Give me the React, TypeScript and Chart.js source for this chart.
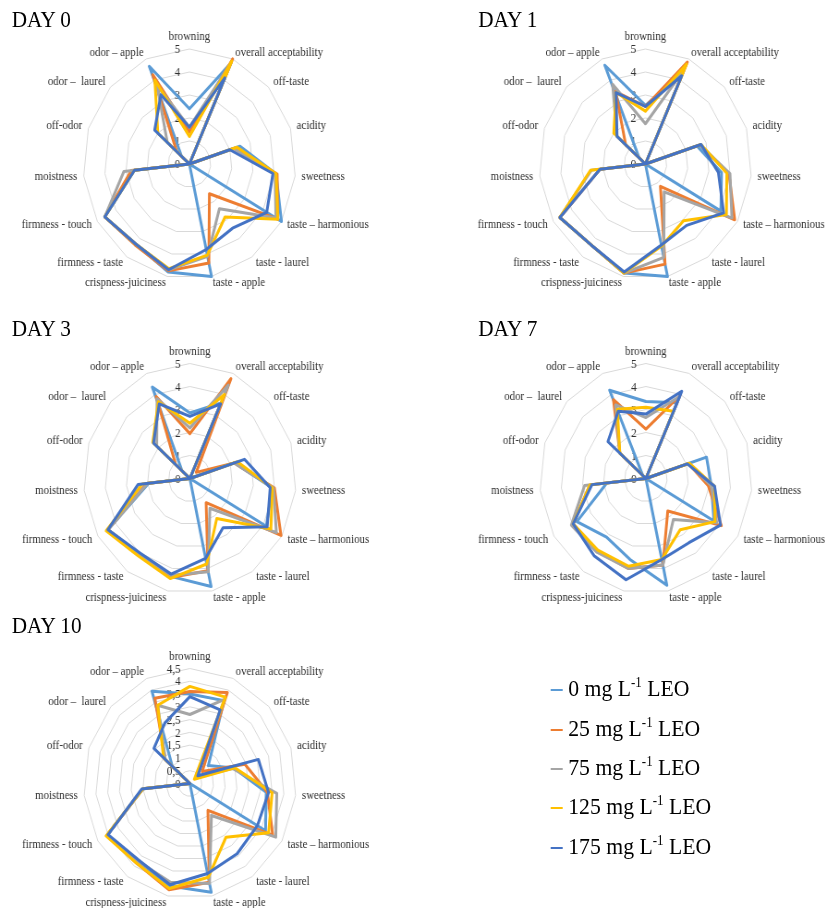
import React, { useEffect, useRef } from "react";
import { Chart, registerables } from "chart.js";
Chart.register(...registerables);

// ---------- DATA ----------
const categories = [
  "browning",
  "overall acceptability",
  "off-taste",
  "acidity",
  "sweetness",
  "taste – harmonious",
  "taste - laurel",
  "taste - apple",
  "crispness-juiciness",
  "firmness - taste",
  "firmness - touch",
  "moistness",
  "off-odor",
  "odor –  laurel",
  "odor – apple",
];

const seriesDoses = ["0", "25", "75", "125", "175"];
const seriesColors = ["#5B9BD5", "#ED7D31", "#A5A5A5", "#FFC000", "#4472C4"];

const ticks0to5 = ["0", "1", "2", "3", "4", "5"];
const ticks0to45 = ["0", "0,5", "1", "1,5", "2", "2,5", "3", "3,5", "4", "4,5"];

// DAY 0
const day0_0mg = [2.4, 4.8, 0, 2.5, 4.1, 5.0, 0, 5.0, 4.8, 4.3, 4.6, 2.6, 0, 0.5, 4.65];
const day0_25mg = [1.4, 5.0, 0, 2.2, 4.15, 4.8, 1.6, 4.4, 4.75, 4.35, 4.6, 2.75, 0, 0.8, 4.25];
const day0_75mg = [1.6, 4.8, 0, 2.2, 4.05, 4.7, 2.4, 4.1, 4.7, 4.3, 4.6, 3.1, 0, 1.4, 3.75];
const day0_125mg = [1.2, 4.9, 0, 2.35, 4.1, 4.8, 2.85, 4.05, 4.65, 4.3, 4.6, 2.6, 0, 2.0, 4.0];
const day0_175mg = [1.6, 4.1, 0, 2.0, 3.95, 4.2, 3.45, 3.8, 4.7, 4.3, 4.6, 2.6, 0, 2.2, 3.3];

// DAY 1
const day1_0mg = [2.55, 4.3, 0, 2.55, 3.6, 4.1, 0, 5.0, 4.85, 4.35, 4.65, 2.15, 0, 0.4, 4.7];
const day1_25mg = [2.5, 4.85, 0, 2.7, 3.95, 4.85, 1.2, 4.45, 4.85, 4.35, 4.65, 2.15, 0, 1.25, 3.45];
const day1_75mg = [1.75, 4.5, 0, 2.7, 4.0, 4.7, 1.5, 4.15, 4.85, 4.35, 4.65, 2.55, 0, 1.8, 3.8];
const day1_125mg = [2.3, 4.75, 0, 2.75, 3.85, 4.4, 3.05, 3.65, 4.85, 4.35, 4.65, 2.6, 0, 2.0, 3.4];
const day1_175mg = [2.5, 4.2, 0, 2.75, 3.45, 4.25, 3.3, 3.6, 4.8, 4.35, 4.65, 2.15, 0, 1.8, 3.4];

// DAY 3
const day3_0mg = [2.85, 3.6, 0, 2.2, 3.9, 4.15, 0, 4.8, 4.35, 4.05, 4.45, 1.95, 0, 0.5, 4.35];
const day3_25mg = [1.95, 4.75, 0.4, 2.2, 4.0, 4.95, 1.3, 4.1, 4.4, 4.05, 4.45, 2.05, 0, 0.9, 3.9];
const day3_75mg = [2.2, 4.45, 0, 2.2, 3.95, 4.7, 1.6, 4.15, 4.3, 4.05, 4.45, 2.0, 0, 2.1, 3.8];
const day3_125mg = [2.4, 4.0, 0, 2.35, 3.9, 4.4, 2.15, 3.8, 4.45, 4.15, 4.55, 2.25, 0, 2.35, 3.65];
const day3_175mg = [2.7, 3.55, 0, 2.7, 3.8, 4.2, 2.65, 3.55, 4.25, 4.0, 4.45, 2.45, 0, 2.3, 3.55];

// DAY 7
const day7_0mg = [3.35, 3.6, 0, 3.0, 3.1, 3.7, 0, 4.75, 3.6, 3.15, 3.75, 1.85, 0, 0.2, 4.2];
const day7_25mg = [2.15, 3.95, 0, 2.1, 2.95, 4.1, 1.75, 3.85, 4.0, 3.9, 3.95, 2.65, 0, 1.65, 3.75];
const day7_75mg = [2.65, 3.9, 0, 2.1, 3.1, 3.85, 2.2, 3.85, 4.0, 3.95, 4.05, 2.9, 0, 1.65, 3.5];
const day7_125mg = [3.1, 3.2, 0, 2.15, 3.25, 3.75, 2.75, 3.6, 3.9, 3.85, 3.95, 2.65, 0, 1.65, 3.3];
const day7_175mg = [2.8, 4.15, 0, 2.05, 3.25, 4.05, 3.45, 3.6, 4.5, 4.15, 3.95, 2.55, 0, 2.4, 3.2];

// DAY 10
const day10_0mg = [3.5, 3.55, 1.05, 1.95, 3.25, 3.7, 0, 4.35, 4.1, 3.75, 4.05, 2.0, 0, 1.0, 3.95];
const day10_25mg = [3.6, 3.9, 0.7, 2.45, 3.3, 4.05, 1.3, 3.95, 4.25, 3.85, 4.05, 2.0, 0, 1.4, 3.65];
const day10_75mg = [2.7, 3.6, 0.4, 1.9, 3.7, 4.2, 1.55, 4.0, 3.95, 3.75, 4.05, 2.0, 0, 1.4, 3.35];
const day10_125mg = [3.8, 3.7, 0.25, 2.0, 3.5, 3.85, 2.6, 3.75, 4.2, 3.85, 4.1, 2.0, 0, 1.5, 3.35];
const day10_175mg = [3.4, 3.15, 0.45, 3.05, 3.35, 3.3, 3.4, 3.6, 4.05, 3.7, 4.0, 2.05, 0, 2.05, 2.6];

// ---------- LAYOUT ----------
const SQUEEZE = 0.924; // horizontal compression of the whole figure
const PAGE_W = 825;
const PAGE_H = 908;
const INNER_W = Math.round(PAGE_W / SQUEEZE);
const FONT = '"Times New Roman", "Liberation Serif", serif';
const RADIUS = 115;
const TEXT_COLOR = "#303030";

const panels = [
  { title: "DAY 0", series: [day0_0mg, day0_25mg, day0_75mg, day0_125mg, day0_175mg], max: 5, step: 1, ticks: ticks0to5,
    left: 0, top: 0, w: 446, h: 312, cx: 205, cy: 164, tx: 12.7, ty: 8 },
  { title: "DAY 1", series: [day1_0mg, day1_25mg, day1_75mg, day1_125mg, day1_175mg], max: 5, step: 1, ticks: ticks0to5,
    left: 447, top: 0, w: 446, h: 312, cx: 251.5, cy: 164, tx: 517.6, ty: 7.5 },
  { title: "DAY 3", series: [day3_0mg, day3_25mg, day3_75mg, day3_125mg, day3_175mg], max: 5, step: 1, ticks: ticks0to5,
    left: 0, top: 312, w: 446, h: 296, cx: 205.5, cy: 166.5, tx: 12.7, ty: 316.7 },
  { title: "DAY 7", series: [day7_0mg, day7_25mg, day7_75mg, day7_125mg, day7_175mg], max: 5, step: 1, ticks: ticks0to5,
    left: 447, top: 312, w: 446, h: 296, cx: 252, cy: 166.5, tx: 517.6, ty: 316.7 },
  { title: "DAY 10", series: [day10_0mg, day10_25mg, day10_75mg, day10_125mg, day10_175mg], max: 4.5, step: 0.5, ticks: ticks0to45,
    left: 0, top: 608, w: 446, h: 300, cx: 205.5, cy: 175.5, tx: 12.7, ty: 614 },
];

const tickTextPlugin = {
  id: "tickText",
  beforeDatasetsDraw(chart: any) {
    const s = chart.scales.r;
    const ctx = chart.ctx;
    ctx.save();
    ctx.font = `12px ${FONT}`;
    ctx.fillStyle = TEXT_COLOR;
    ctx.textAlign = "right";
    ctx.textBaseline = "middle";
    s.ticks.forEach((t: any) => {
      const d = s.getDistanceFromCenterForValue(t.value);
      ctx.fillText(t.label, s.xCenter - 10, s.yCenter - d + 1);
    });
    ctx.restore();
  },
};

function RadarPanel(props: any) {
  const { series, max, step, ticks, left, top, w, h, cx, cy } = props;
  const ref = useRef<HTMLCanvasElement>(null);
  useEffect(() => {
    const n = categories.length;
    const chart = new Chart(ref.current as HTMLCanvasElement, {
      type: "radar",
      data: {
        labels: categories,
        datasets: series.map((d: number[], i: number) => ({
          label: `${seriesDoses[i]} mg L-1 LEO`,
          data: d,
          borderColor: seriesColors[i],
          backgroundColor: "transparent",
          borderWidth: 3,
          borderJoinStyle: "round",
          pointRadius: 0,
          pointHoverRadius: 0,
          fill: false,
          order: 4 - i,
        })),
      },
      options: {
        responsive: false,
        animation: false,
        events: [],
        layout: { padding: 0 },
        plugins: { legend: { display: false }, tooltip: { enabled: false } },
        scales: {
          r: {
            min: 0,
            max,
            beginAtZero: true,
            ticks: {
              display: false,
              stepSize: step,
              callback: (_v: any, i: number) => ticks[i],
            },
            grid: { color: "#D9D9D9", lineWidth: 1, circular: false },
            angleLines: { display: false },
            pointLabels: {
              display: true,
              color: TEXT_COLOR,
              font: { family: FONT, size: 11.7 },
              padding: (c: any) => (c.index === 0 ? 5 : 7),
            },
            afterFit: (scale: any) => {
              const saved = [scale.left, scale.right, scale.top, scale.bottom];
              scale.left = -10000;
              scale.right = 10000;
              scale.top = -10000;
              scale.bottom = 10000;
              scale.xCenter = cx;
              scale.yCenter = cy;
              scale.drawingArea = RADIUS;
              scale.fit();
              [scale.left, scale.right, scale.top, scale.bottom] = saved;
              const items = scale._pointLabelItems || [];
              items.forEach((it: any, i: number) => {
                const ang = (i * 360) / n;
                const hh = it.bottom - it.top;
                let dy = 0;
                if (ang === 0 || ang === 90 || ang === 270 || ang === 180) dy = 0;
                else if (ang < 90 || ang > 270) dy = hh / 2;
                else dy = -hh / 2;
                it.y += dy;
                it.top += dy;
                it.bottom += dy;
              });
            },
          },
        },
      },
      plugins: [tickTextPlugin],
    } as any);
    return () => chart.destroy();
  }, []);
  return (
    <canvas
      ref={ref}
      width={w}
      height={h}
      style={{ position: "absolute", left, top, width: w, height: h, display: "block" }}
    />
  );
}

const legendRowCenters = [690, 729.5, 768.5, 808, 847.5];

export default function App() {
  return (
    <div style={{ position: "absolute", left: 0, top: 0, width: PAGE_W, height: PAGE_H, overflow: "hidden", background: "#fff" }}>
      <div
        style={{
          position: "absolute",
          left: 0,
          top: 0,
          width: INNER_W,
          height: PAGE_H,
          transform: `scaleX(${SQUEEZE})`,
          transformOrigin: "0 0",
        }}
      >
        {panels.map((p, i) => (
          <RadarPanel key={i} {...p} />
        ))}
        {panels.map((p, i) => (
          <div
            key={"t" + i}
            style={{
              position: "absolute",
              left: p.tx,
              top: p.ty,
              fontFamily: FONT,
              fontSize: 23,
              lineHeight: "23px",
              color: "#000",
              whiteSpace: "nowrap",
            }}
          >
            {p.title}
          </div>
        ))}
        {seriesDoses.map((dose, i) => (
          <div
            key={"l" + i}
            style={{
              position: "absolute",
              left: 596,
              top: legendRowCenters[i] - 15,
              height: 30,
              display: "flex",
              alignItems: "center",
              whiteSpace: "nowrap",
            }}
          >
            <span style={{ display: "inline-block", width: 13, height: 2, background: seriesColors[i], marginRight: 6 }} />
            <span style={{ fontFamily: FONT, fontSize: 23.5, lineHeight: "30px", color: "#000" }}>
              {dose} mg L
              <span style={{ fontSize: 14, position: "relative", top: -9 }}>-1</span> LEO
            </span>
          </div>
        ))}
      </div>
    </div>
  );
}
